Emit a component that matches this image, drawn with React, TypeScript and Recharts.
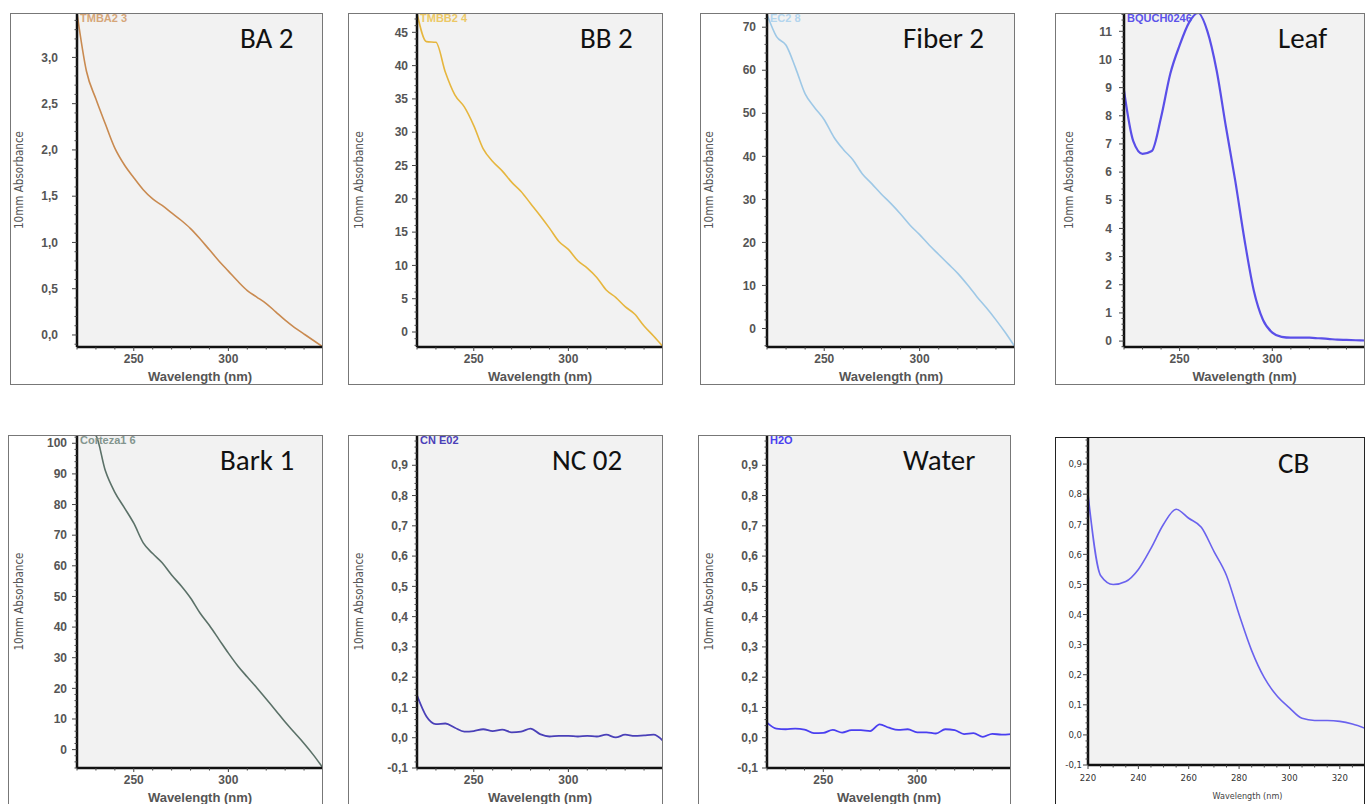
import React from 'react';
import { LineChart, Line, XAxis, YAxis, CartesianGrid } from 'recharts';

// wavelength grid (nm) at 5 nm steps
const wavelengths = [
  220, 225, 230, 235, 240, 245, 250, 255, 260, 265, 270, 275, 280, 285,
  290, 295, 300, 305, 310, 315, 320, 325, 330, 335, 340, 345, 350,
];
const cbWavelengths = [
  220, 225, 230, 235, 240, 245, 250, 255, 260, 265, 270, 275,
  280, 285, 290, 295, 300, 305, 310, 315, 320, 325, 330,
];

const ba2 = [
  3.48, 2.85, 2.55, 2.28, 2.02, 1.84, 1.7, 1.57, 1.47, 1.4, 1.32, 1.24, 1.15, 1.04,
  0.92, 0.8, 0.69, 0.58, 0.48, 0.41, 0.34, 0.25, 0.16, 0.08, 0.01, -0.06, -0.13,
];
const bb2 = [
  47.9, 43.6, 43.5, 39, 35.6, 33.8, 31, 27.5, 25.6, 24.2, 22.5, 21.1, 19.3, 17.5,
  15.6, 13.6, 12.4, 10.7, 9.6, 8.2, 6.3, 5.2, 3.8, 2.7, 0.9, -0.6, -2.2,
];
const fiber2 = [
  73, 67.8, 65.8, 60.5, 54.5, 51.3, 48.5, 44.5, 41.6, 39.2, 35.9, 33.6, 31.2, 29,
  26.6, 24, 21.8, 19.4, 17.2, 15, 12.8, 10.2, 7.4, 4.8, 2, -1, -4.3,
];
const leaf = [
  8.9, 7.1, 6.65, 6.75, 7.95, 9.5, 10.5, 11.3, 11.65, 11.0, 9.6, 7.6, 5.7, 3.6,
  1.8, 0.75, 0.3, 0.15, 0.12, 0.12, 0.12, 0.1, 0.08, 0.05, 0.04, 0.03, 0.02,
];
const bark1 = [
  106, 104.5, 102.5, 91, 84, 79, 73.9, 67.5, 64, 61, 57, 53.5, 49.5, 44.6,
  40.5, 36, 31.5, 27.3, 23.7, 20.2, 16.5, 12.8, 9, 5.5, 2, -1.8, -6,
];
const nc02 = [
  0.14, 0.07, 0.045, 0.047, 0.033, 0.02, 0.022, 0.028, 0.022, 0.027, 0.018, 0.02, 0.03, 0.012,
  0.004, 0.006, 0.006, 0.004, 0.006, 0.004, 0.01, 0.001, 0.01, 0.006, 0.008, 0.01, -0.01,
];
const water = [
  0.05, 0.03, 0.028, 0.03, 0.027, 0.015, 0.016, 0.026, 0.017, 0.025, 0.025, 0.022, 0.044, 0.033,
  0.026, 0.028, 0.018, 0.018, 0.014, 0.028, 0.025, 0.012, 0.015, 0.003, 0.013, 0.01, 0.012,
];
const cb = [
  0.8, 0.53, 0.5, 0.51, 0.55, 0.62, 0.7, 0.75, 0.72, 0.69, 0.61, 0.53,
  0.4, 0.28, 0.19, 0.13, 0.09, 0.055, 0.048, 0.048, 0.045, 0.036, 0.022,
];

// tick labels
const wlTicks = [250, 300];
const cbWlTicks = [220, 240, 260, 280, 300, 320];
const ba2Ticks = [0, 0.5, 1, 1.5, 2, 2.5, 3];
const bb2Ticks = [0, 5, 10, 15, 20, 25, 30, 35, 40, 45];
const fiberTicks = [0, 10, 20, 30, 40, 50, 60, 70];
const leafTicks = [0, 1, 2, 3, 4, 5, 6, 7, 8, 9, 10, 11];
const barkTicks = [0, 10, 20, 30, 40, 50, 60, 70, 80, 90, 100];
const smallTicks = [-0.1, 0, 0.1, 0.2, 0.3, 0.4, 0.5, 0.6, 0.7, 0.8, 0.9];

type Box = { l: number; t: number; r: number; b: number };
type Panel = {
  title: string;
  titleAt: [number, number];
  tag: string;
  tagColor: string;
  color: string;
  sw: number;
  x: number[];
  y: number[];
  xDomain: [number, number];
  xMajor: number[];
  xMinor: number;
  yDomain: [number, number];
  yMajor: number[];
  yMinor: number;
  comma: boolean;
  frame: Box;
  plot: Box;
  gap: number;
  compact?: boolean;
  yLabelOff?: number;
  xLabelDx?: number;
};

const H = 804;

const panels: Panel[] = [
  {
    title: 'BA 2', titleAt: [240, 48], tag: 'TMBA2 3', tagColor: '#d6a679', color: '#c98a50', sw: 1.6,
    x: wavelengths, y: ba2, xDomain: [220, 350], xMajor: wlTicks, xMinor: 10,
    yDomain: [-0.13, 3.48], yMajor: ba2Ticks, yMinor: 0.1, comma: true,
    frame: { l: 10, t: 13, r: 323, b: 385 }, plot: { l: 77, t: 13, r: 323, b: 347 }, gap: 19,
  },
  {
    title: 'BB 2', titleAt: [580, 48], tag: 'TMBB2 4', tagColor: '#ecc866', color: '#e6b63e', sw: 1.6,
    x: wavelengths, y: bb2, xDomain: [220, 350], xMajor: wlTicks, xMinor: 10,
    yDomain: [-2.25, 47.9], yMajor: bb2Ticks, yMinor: 1, comma: false,
    frame: { l: 348, t: 13, r: 663, b: 385 }, plot: { l: 417, t: 13, r: 663, b: 347 }, gap: 9,
  },
  {
    title: 'Fiber 2', titleAt: [903, 48], tag: 'EC2 8', tagColor: '#b3d5ee', color: '#9ec8e6', sw: 1.6,
    x: wavelengths, y: fiber2, xDomain: [220, 350], xMajor: wlTicks, xMinor: 10,
    yDomain: [-4.3, 73.3], yMajor: fiberTicks, yMinor: 2, comma: false,
    frame: { l: 700, t: 13, r: 1015, b: 385 }, plot: { l: 767, t: 13, r: 1015, b: 347 }, gap: 11,
  },
  {
    title: 'Leaf', titleAt: [1278, 48], tag: 'BQUCH0246', tagColor: '#5b52ea', color: '#5a4fe8', sw: 2.2,
    x: wavelengths, y: leaf, xDomain: [220, 350], xMajor: wlTicks, xMinor: 10,
    yDomain: [-0.21, 11.65], yMajor: leafTicks, yMinor: 0.2, comma: false,
    frame: { l: 1055, t: 13, r: 1365, b: 385 }, plot: { l: 1124, t: 13, r: 1365, b: 347 }, gap: 12,
    yLabelOff: 55,
  },
  {
    title: 'Bark 1', titleAt: [220, 470], tag: 'Corteza1 6', tagColor: '#83958e', color: '#5b7168', sw: 1.6,
    x: wavelengths, y: bark1, xDomain: [220, 350], xMajor: wlTicks, xMinor: 10,
    yDomain: [-6, 102.7], yMajor: barkTicks, yMinor: 2, comma: false,
    frame: { l: 8, t: 435, r: 323, b: 812 }, plot: { l: 77, t: 435, r: 323, b: 768 }, gap: 10,
  },
  {
    title: 'NC 02', titleAt: [552, 470], tag: 'CN E02', tagColor: '#4a40b8', color: '#4a40b8', sw: 1.8,
    x: wavelengths, y: nc02, xDomain: [220, 350], xMajor: wlTicks, xMinor: 10,
    yDomain: [-0.1, 1.0], yMajor: smallTicks, yMinor: 0.02, comma: true,
    frame: { l: 348, t: 435, r: 663, b: 812 }, plot: { l: 417, t: 435, r: 663, b: 768 }, gap: 9,
  },
  {
    title: 'Water', titleAt: [903, 470], tag: 'H2O', tagColor: '#4a3ff0', color: '#4a3ff0', sw: 1.8,
    x: wavelengths, y: water, xDomain: [220, 350], xMajor: wlTicks, xMinor: 10,
    yDomain: [-0.1, 1.0], yMajor: smallTicks, yMinor: 0.02, comma: true,
    frame: { l: 698, t: 435, r: 1011, b: 812 }, plot: { l: 767, t: 435, r: 1011, b: 768 }, gap: 9,
  },
  {
    title: 'CB', titleAt: [1278, 473], tag: '', tagColor: '#4a3ff0', color: '#6a62ee', sw: 1.6,
    x: cbWavelengths, y: cb, xDomain: [220, 330], xMajor: cbWlTicks, xMinor: 5,
    yDomain: [-0.1, 0.99], yMajor: smallTicks, yMinor: 0.02, comma: true,
    frame: { l: 1055, t: 437, r: 1365, b: 812 }, plot: { l: 1088, t: 437, r: 1365, b: 765 }, gap: 6,
    compact: true, xLabelDx: 21,
  },
];

function minorTicks(domain: [number, number], step: number) {
  const out: number[] = [];
  const start = Math.ceil(domain[0] / step - 1e-9);
  for (let i = start; i * step <= domain[1] + 1e-9; i++) out.push(Math.round(i * step * 1000) / 1000);
  return out;
}

const isMajor = (list: number[], v: number) => list.some((m) => Math.abs(m - v) < 1e-6);

const tickFont = "'Liberation Sans', Arial, sans-serif";
const narrowFont = "'Liberation Sans Narrow', 'DejaVu Sans Condensed', sans-serif";

function PanelChart({ p }: { p: Panel }) {
  const data = p.x.map((wl, i) => ({ wl, v: p.y[i] }));
  const chartH = Math.min(p.frame.b, H) - p.frame.t;
  const yAxisW = p.plot.l - p.frame.l;
  const xAxisH = chartH - (p.plot.b - p.frame.t);
  const fmt = (v: number) => (p.comma ? v.toFixed(1).replace('.', ',') : String(v));
  const fs = p.compact ? 9.5 : 12;
  const font = p.compact ? narrowFont : tickFont;
  const weight = p.compact ? 'normal' : 'bold';
  const fill = p.compact ? '#333' : '#555';

  const yTick = (props: any) => {
    const { x, y, payload } = props;
    const major = isMajor(p.yMajor, payload.value);
    return (
      <g>
        <line x1={x - (major ? 5 : 2.5)} x2={x} y1={y} y2={y} stroke="#444" strokeWidth={1} />
        {major && (
          <text x={x - p.gap} y={y} dy="0.35em" textAnchor="end" fontSize={fs}
            fontFamily={font} fontWeight={weight} fill={fill}>
            {fmt(payload.value)}
          </text>
        )}
      </g>
    );
  };

  const xTick = (props: any) => {
    const { x, y, payload } = props;
    const major = isMajor(p.xMajor, payload.value);
    return (
      <g>
        <line x1={x} x2={x} y1={y} y2={y + (major ? 4 : 2.5)} stroke="#444" strokeWidth={1} />
        {major && (
          <text x={x} y={y + 16} textAnchor="middle" fontSize={fs}
            fontFamily={font} fontWeight={weight} fill={fill}>
            {payload.value}
          </text>
        )}
      </g>
    );
  };

  const xLabel = (props: any) => {
    const vb = props.viewBox;
    return (
      <text x={vb.x + vb.width / 2 + (p.xLabelDx ?? 0)} y={vb.y + 34} textAnchor="middle"
        fontSize={p.compact ? 9 : 13} fontFamily={p.compact ? narrowFont : tickFont}
        fontWeight={p.compact ? 'normal' : 'bold'} fill={p.compact ? '#444' : '#555'}>
        Wavelength (nm)
      </text>
    );
  };

  const yLabel = (props: any) => {
    if (p.compact) return null;
    const vb = props.viewBox;
    const cx = vb.x + vb.width - (p.yLabelOff ?? 58);
    const cy = vb.y + vb.height / 2;
    return (
      <text x={cx} y={cy} transform={`rotate(-90, ${cx}, ${cy})`} textAnchor="middle"
        dominantBaseline="central" fontSize={12} fontFamily={narrowFont} fill="#555"
        textLength={98} lengthAdjust="spacingAndGlyphs">
        10mm Absorbance
      </text>
    );
  };

  return (
    <div style={{ position: 'absolute', left: p.frame.l, top: p.frame.t }}>
      <LineChart
        width={p.frame.r - p.frame.l}
        height={chartH}
        data={data}
        margin={{ top: p.plot.t - p.frame.t, right: p.frame.r - p.plot.r, left: 0, bottom: 0 }}
      >
        <CartesianGrid fill="#f2f2f2" stroke="none" horizontal={false} vertical={false} />
        <XAxis
          dataKey="wl"
          type="number"
          domain={p.xDomain}
          allowDataOverflow
          ticks={minorTicks(p.xDomain, p.xMinor)}
          interval={0}
          height={xAxisH}
          tickSize={0}
          tickMargin={0}
          tickLine={false}
          tick={xTick}
          axisLine={{ stroke: '#111', strokeWidth: 2.5 }}
          label={{ content: xLabel }}
        />
        <YAxis
          type="number"
          domain={p.yDomain}
          allowDataOverflow
          ticks={minorTicks(p.yDomain, p.yMinor)}
          interval={0}
          width={yAxisW}
          tickSize={0}
          tickMargin={0}
          tickLine={false}
          tick={yTick}
          axisLine={{ stroke: '#111', strokeWidth: 2.5 }}
          label={{ content: yLabel }}
        />
        <Line
          type="monotone"
          dataKey="v"
          stroke={p.color}
          strokeWidth={p.sw}
          dot={false}
          activeDot={false}
          isAnimationActive={false}
        />
      </LineChart>
    </div>
  );
}

export default function App() {
  return (
    <div style={{ position: 'absolute', left: 0, top: 0, width: 1371, height: H, background: '#fff', overflow: 'hidden' }}>
      {panels.map((p) => (
        <PanelChart key={p.title} p={p} />
      ))}
      {panels.map((p) => (
        <div
          key={p.title + '-frame'}
          style={{
            position: 'absolute', left: p.frame.l, top: p.frame.t,
            width: p.frame.r - p.frame.l, height: p.frame.b - p.frame.t,
            border: `1px solid ${p.compact ? '#222' : '#777'}`, boxSizing: 'border-box', pointerEvents: 'none',
          }}
        />
      ))}
      <svg width={1371} height={H} style={{ position: 'absolute', left: 0, top: 0, pointerEvents: 'none' }}>
        {panels.map((p) => (
          <g key={p.title + '-text'}>
            {p.tag && (
              <text x={p.plot.l + 3} y={p.plot.t + 9} fontSize={11} fontWeight="bold"
                fontFamily={tickFont} fill={p.tagColor}>
                {p.tag}
              </text>
            )}
            <text x={p.titleAt[0]} y={p.titleAt[1]} fontSize={29}
              fontFamily="Carlito, Calibri, Lato, 'Open Sans', sans-serif" fill="#111">
              {p.title}
            </text>
          </g>
        ))}
      </svg>
    </div>
  );
}
